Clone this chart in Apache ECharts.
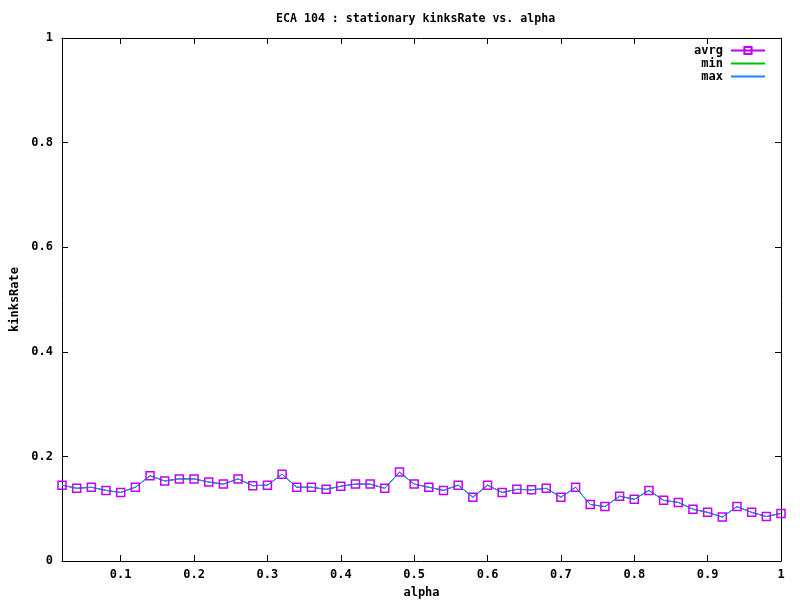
<!DOCTYPE html>
<html>
<head>
<meta charset="utf-8">
<script src="https://cdn.jsdelivr.net/npm/echarts@6/dist/echarts.min.js"></script>
<style>html,body{margin:0;padding:0;background:#fff}#c{width:800px;height:600px}</style>
</head>
<body>
<div id="c"></div>
<script>
var alpha = [0.02,0.04,0.06,0.08,0.10,0.12,0.14,0.16,0.18,0.20,0.22,0.24,0.26,0.28,0.30,0.32,0.34,0.36,0.38,0.40,0.42,0.44,0.46,0.48,0.50,0.52,0.54,0.56,0.58,0.60,0.62,0.64,0.66,0.68,0.70,0.72,0.74,0.76,0.78,0.80,0.82,0.84,0.86,0.88,0.90,0.92,0.94,0.96,0.98,1.00];
var avrg = [0.145,0.139,0.141,0.135,0.131,0.141,0.163,0.153,0.157,0.157,0.151,0.147,0.157,0.144,0.145,0.166,0.141,0.141,0.137,0.143,0.147,0.147,0.139,0.170,0.147,0.141,0.135,0.145,0.122,0.145,0.131,0.137,0.136,0.139,0.122,0.141,0.108,0.104,0.124,0.118,0.135,0.116,0.112,0.099,0.093,0.084,0.104,0.093,0.085,0.091];
var minv = [0.145,0.139,0.141,0.135,0.131,0.141,0.163,0.153,0.157,0.157,0.151,0.147,0.157,0.144,0.145,0.166,0.141,0.141,0.137,0.143,0.147,0.147,0.139,0.170,0.147,0.141,0.135,0.145,0.122,0.145,0.131,0.137,0.136,0.139,0.122,0.141,0.108,0.104,0.124,0.118,0.135,0.116,0.112,0.099,0.093,0.084,0.104,0.093,0.085,0.091];
var maxv = [0.145,0.139,0.141,0.135,0.131,0.141,0.163,0.153,0.157,0.157,0.151,0.147,0.157,0.144,0.145,0.166,0.141,0.141,0.137,0.143,0.147,0.147,0.139,0.170,0.147,0.141,0.135,0.145,0.122,0.145,0.131,0.137,0.136,0.139,0.122,0.141,0.108,0.104,0.124,0.118,0.135,0.116,0.112,0.099,0.093,0.084,0.104,0.093,0.085,0.091];
var xTicks = [0.1,0.2,0.3,0.4,0.5,0.6,0.7,0.8,0.9,1];

function pairs(xs, ys){ return xs.map(function(x,i){return [x, ys[i]];}); }

var font = '"DejaVu Sans Mono", monospace';
var txt = {color:'#000', fontFamily:font, fontSize:12, fontWeight:'bold'};

var chart = echarts.init(document.getElementById('c'), null, {renderer:'canvas'});
chart.setOption({
  animation:false,
  backgroundColor:'#fff',
  title:{text:'ECA 104 : stationary kinksRate vs. alpha', left:276, top:13, padding:0,
         textStyle:Object.assign({}, txt, {fontSize:11.6})},
  legend:{
    orient:'vertical', right:34, top:44, align:'right', padding:0,
    itemWidth:34, itemHeight:9, itemGap:0,
    textStyle:Object.assign({}, txt, {lineHeight:13, padding:[0,3,0,0]}),
    data:[
      {name:'avrg'},
      {name:'min', itemStyle:{color:'rgba(0,0,0,0)', borderWidth:0}},
      {name:'max', itemStyle:{color:'rgba(0,0,0,0)', borderWidth:0}}
    ]
  },
  grid:{left:62, right:19, top:38, bottom:39, containLabel:false, outerBoundsMode:'none'},
  xAxis:[
    {type:'value', min:0.02, max:1, position:'bottom',
     name:'alpha', nameLocation:'middle', nameGap:26, nameTextStyle:Object.assign({}, txt),
     axisLine:{show:true, onZero:false, lineStyle:{color:'#000', width:1}},
     axisTick:{show:true, inside:true, length:6, customValues:xTicks, lineStyle:{color:'#000'}},
     axisLabel:{show:true, customValues:xTicks, margin:8, color:'#000', fontFamily:font, fontSize:12, fontWeight:'bold'},
     splitLine:{show:false}},
    {type:'value', min:0.02, max:1, position:'top',
     axisLine:{show:true, onZero:false, lineStyle:{color:'#000', width:1}},
     axisTick:{show:true, inside:true, length:6, customValues:xTicks, lineStyle:{color:'#000'}},
     axisLabel:{show:false}, splitLine:{show:false}}
  ],
  yAxis:[
    {type:'value', min:0, max:1, interval:0.2, position:'left',
     name:'kinksRate', nameLocation:'middle', nameGap:41, nameRotate:90, nameTextStyle:Object.assign({}, txt),
     axisLine:{show:true, onZero:false, lineStyle:{color:'#000', width:1}},
     axisTick:{show:true, inside:true, length:6, lineStyle:{color:'#000'}},
     axisLabel:{show:true, margin:9, color:'#000', fontFamily:font, fontSize:12, fontWeight:'bold'},
     splitLine:{show:false}},
    {type:'value', min:0, max:1, interval:0.2, position:'right',
     axisLine:{show:true, onZero:false, lineStyle:{color:'#000', width:1}},
     axisTick:{show:true, inside:true, length:6, lineStyle:{color:'#000'}},
     axisLabel:{show:false}, splitLine:{show:false}}
  ],
  series:[
    {name:'avrg', type:'line', xAxisIndex:0, yAxisIndex:0, data:pairs(alpha, avrg),
     symbol:'rect', symbolSize:8, showAllSymbol:true,
     itemStyle:{color:'rgba(255,255,255,0)', borderColor:'#c000ff', borderWidth:1.5},
     lineStyle:{color:'#c000ff', width:1}},
    {name:'min', type:'line', xAxisIndex:0, yAxisIndex:0, data:pairs(alpha, minv),
     symbol:'none', itemStyle:{color:'#00c000'}, lineStyle:{color:'#00c000', width:1}},
    {name:'max', type:'line', xAxisIndex:0, yAxisIndex:0, data:pairs(alpha, maxv),
     symbol:'none', itemStyle:{color:'#1a8cff'}, lineStyle:{color:'#1a8cff', width:1}}
  ]
});
</script>
</body>
</html>
